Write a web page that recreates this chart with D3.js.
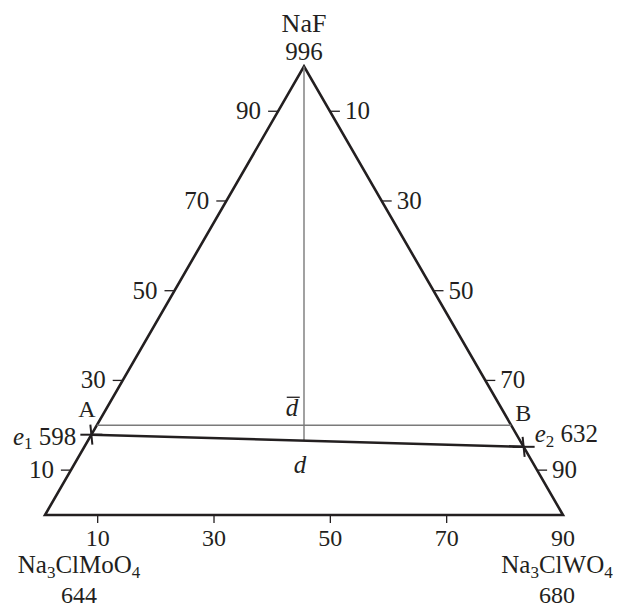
<!DOCTYPE html>
<html>
<head>
<meta charset="utf-8">
<script src="https://cdn.jsdelivr.net/npm/d3@7"></script>
<style>
  html, body { margin: 0; padding: 0; background: #fff; }
  svg text { font-family: "Liberation Serif", "DejaVu Serif", serif; fill: #231f20; }
</style>
</head>
<body>
<svg id="chart" width="620" height="609"></svg>
<script>
// Ternary system Na3ClMoO4 – Na3ClWO4 – NaF (mol. %)
const vertexLabels = ["Na_3ClMoO_4", "Na_3ClWO_4", "NaF"];
const vertexTemps = [644, 680, 996];          // melting points, °C
const sideTicks = [10, 30, 50, 70, 90];       // scale marks on each side
const eutecticNames = ["e_1", "e_2"];
const eutecticTemps = [598, 632];             // °C
const eutecticNaF = [17.9, 15.2];             // NaF content, mol. %
const sectionNames = ["A", "B"];
const sectionNaF = 20;                        // A–B section, mol. % NaF

const svg = d3.select("#chart");
const H = Math.sqrt(3) / 2;
const left = 45, right = 563, base = 515;
const sideLen = right - left;

const xs = d3.scaleLinear().domain([0, 1]).range([left, right]);
const ys = d3.scaleLinear().domain([0, H]).range([base, base - sideLen * H]);

// composition (mol. % Na3ClWO4, mol. % NaF) -> pixel position
function pt(wo4, naf) {
  const b = wo4 / 100, c = naf / 100;
  return [xs(b + c / 2), ys(c * H)];
}
// bottom scale marks, as printed along the base
const baseScale = d3.scaleLinear().domain([10, 90]).range([xs(0.1017), xs(1)]);

// text with "_n" subscripts
function richText(sel, str, italicFirst) {
  const parts = str.split(/_(\d)/);
  parts.forEach((p, i) => {
    if (!p) return;
    const isSub = i % 2 === 1;
    const ts = sel.append("tspan").text(p);
    if (isSub) {
      ts.attr("font-size", "0.68em").attr("dy", "0.28em");
    } else if (i > 0) {
      ts.attr("dy", "-0.19em");
    }
    if (italicFirst && i === 0) ts.attr("font-style", "italic");
  });
  return sel;
}

const fs = 25;
const dark = "#231f20", grey = "#7a7a7a";

// triangle
const A0 = pt(0, 0), B0 = pt(100, 0), C0 = pt(0, 100);
svg.append("path")
  .attr("d", d3.line()([A0, B0, C0, A0]) + "Z")
  .attr("fill", "none").attr("stroke", dark).attr("stroke-width", 2.6)
  .attr("stroke-linejoin", "miter");

// left side: NaF content
sideTicks.forEach(v => {
  const [x, y] = pt(0, v);
  svg.append("line").attr("x1", x - 10).attr("x2", x).attr("y1", y).attr("y2", y)
    .attr("stroke", dark).attr("stroke-width", 1.3);
  svg.append("text").attr("x", x - 17).attr("y", y + 8).attr("text-anchor", "end")
    .attr("font-size", fs).text(v);
});
// right side: Na3ClWO4 content, growing downwards
sideTicks.forEach(v => {
  const [x, y] = pt(v, 100 - v);
  svg.append("line").attr("x1", x).attr("x2", x + 10).attr("y1", y).attr("y2", y)
    .attr("stroke", dark).attr("stroke-width", 1.3);
  svg.append("text").attr("x", x + 15).attr("y", y + 8).attr("text-anchor", "start")
    .attr("font-size", fs).text(v);
});
// base
sideTicks.forEach(v => {
  const x = baseScale(v);
  if (v < 90) {
    svg.append("line").attr("x1", x).attr("x2", x).attr("y1", base).attr("y2", base + 8)
      .attr("stroke", dark).attr("stroke-width", 1.3);
  }
  svg.append("text").attr("x", x).attr("y", base + 31).attr("text-anchor", "middle")
    .attr("font-size", fs - 1).text(v);
});

// A–B section (d-bar)
const secA = pt(0, sectionNaF), secB = pt(100 - sectionNaF, sectionNaF);
svg.append("line").attr("x1", secA[0]).attr("y1", secA[1]).attr("x2", secB[0]).attr("y2", secB[1])
  .attr("stroke", grey).attr("stroke-width", 1.4);

// eutectic points e1, e2 and the line between them
const e1 = pt(0, eutecticNaF[0]);
const e2 = pt(100 - eutecticNaF[1], eutecticNaF[1]);
const dPt = [C0[0], e1[1] + (e2[1] - e1[1]) * (C0[0] - e1[0]) / (e2[0] - e1[0])];

// altitude from NaF vertex down to d
svg.append("line").attr("x1", C0[0]).attr("y1", C0[1]).attr("x2", dPt[0]).attr("y2", dPt[1])
  .attr("stroke", grey).attr("stroke-width", 1.4);

svg.append("line").attr("x1", e1[0]).attr("y1", e1[1]).attr("x2", e2[0]).attr("y2", e2[1])
  .attr("stroke", dark).attr("stroke-width", 2.6);

[e1, e2].forEach(p => {
  svg.append("line").attr("x1", p[0] - 11).attr("x2", p[0] + 11).attr("y1", p[1]).attr("y2", p[1])
    .attr("stroke", dark).attr("stroke-width", 2);
  svg.append("line").attr("x1", p[0] - 1).attr("x2", p[0] + 1).attr("y1", p[1] - 10).attr("y2", p[1] + 10)
    .attr("stroke", dark).attr("stroke-width", 2);
});

// eutectic labels
const t1 = svg.append("text").attr("x", e1[0] - 15).attr("y", e1[1] + 10)
  .attr("text-anchor", "end").attr("font-size", fs);
richText(t1, eutecticNames[0], true);
t1.append("tspan").attr("dy", "-0.19em").text(" " + eutecticTemps[0]);

const t2 = svg.append("text").attr("x", e2[0] + 11).attr("y", e2[1] - 5)
  .attr("text-anchor", "start").attr("font-size", fs);
richText(t2, eutecticNames[1], true);
t2.append("tspan").attr("dy", "-0.19em").text(" " + eutecticTemps[1]);

// section end labels
svg.append("text").attr("x", secA[0] - 10).attr("y", secA[1] - 8).attr("text-anchor", "middle")
  .attr("font-size", fs - 1).text(sectionNames[0]);
svg.append("text").attr("x", secB[0] + 12).attr("y", secB[1] - 4).attr("text-anchor", "middle")
  .attr("font-size", fs - 1).text(sectionNames[1]);

// d-bar and d
const dbar = svg.append("text").attr("x", C0[0] - 12).attr("y", secA[1] - 9)
  .attr("text-anchor", "middle").attr("font-size", fs).attr("font-style", "italic").text("d");
const bb = dbar.node().getBBox();
svg.append("line").attr("x1", bb.x + 1).attr("x2", bb.x + bb.width + 1)
  .attr("y1", bb.y + 3).attr("y2", bb.y + 3).attr("stroke", dark).attr("stroke-width", 1.3);
svg.append("text").attr("x", dPt[0] - 4).attr("y", dPt[1] + 32)
  .attr("text-anchor", "middle").attr("font-size", fs).attr("font-style", "italic").text("d");

// vertex names and melting points
const vPos = [[A0[0] + 34, A0[1]], [B0[0] - 6, B0[1]], [C0[0], C0[1]]];
[0, 1].forEach(i => {
  const tx = svg.append("text").attr("x", vPos[i][0]).attr("y", base + 58)
    .attr("text-anchor", "middle").attr("font-size", fs);
  richText(tx, vertexLabels[i], false);
  svg.append("text").attr("x", vPos[i][0]).attr("y", base + 88)
    .attr("text-anchor", "middle").attr("font-size", fs - 1).text(vertexTemps[i]);
});
svg.append("text").attr("x", C0[0]).attr("y", 32).attr("text-anchor", "middle")
  .attr("font-size", fs + 1).text(vertexLabels[2]);
svg.append("text").attr("x", C0[0]).attr("y", 60).attr("text-anchor", "middle")
  .attr("font-size", fs).text(vertexTemps[2]);
</script>
</body>
</html>
